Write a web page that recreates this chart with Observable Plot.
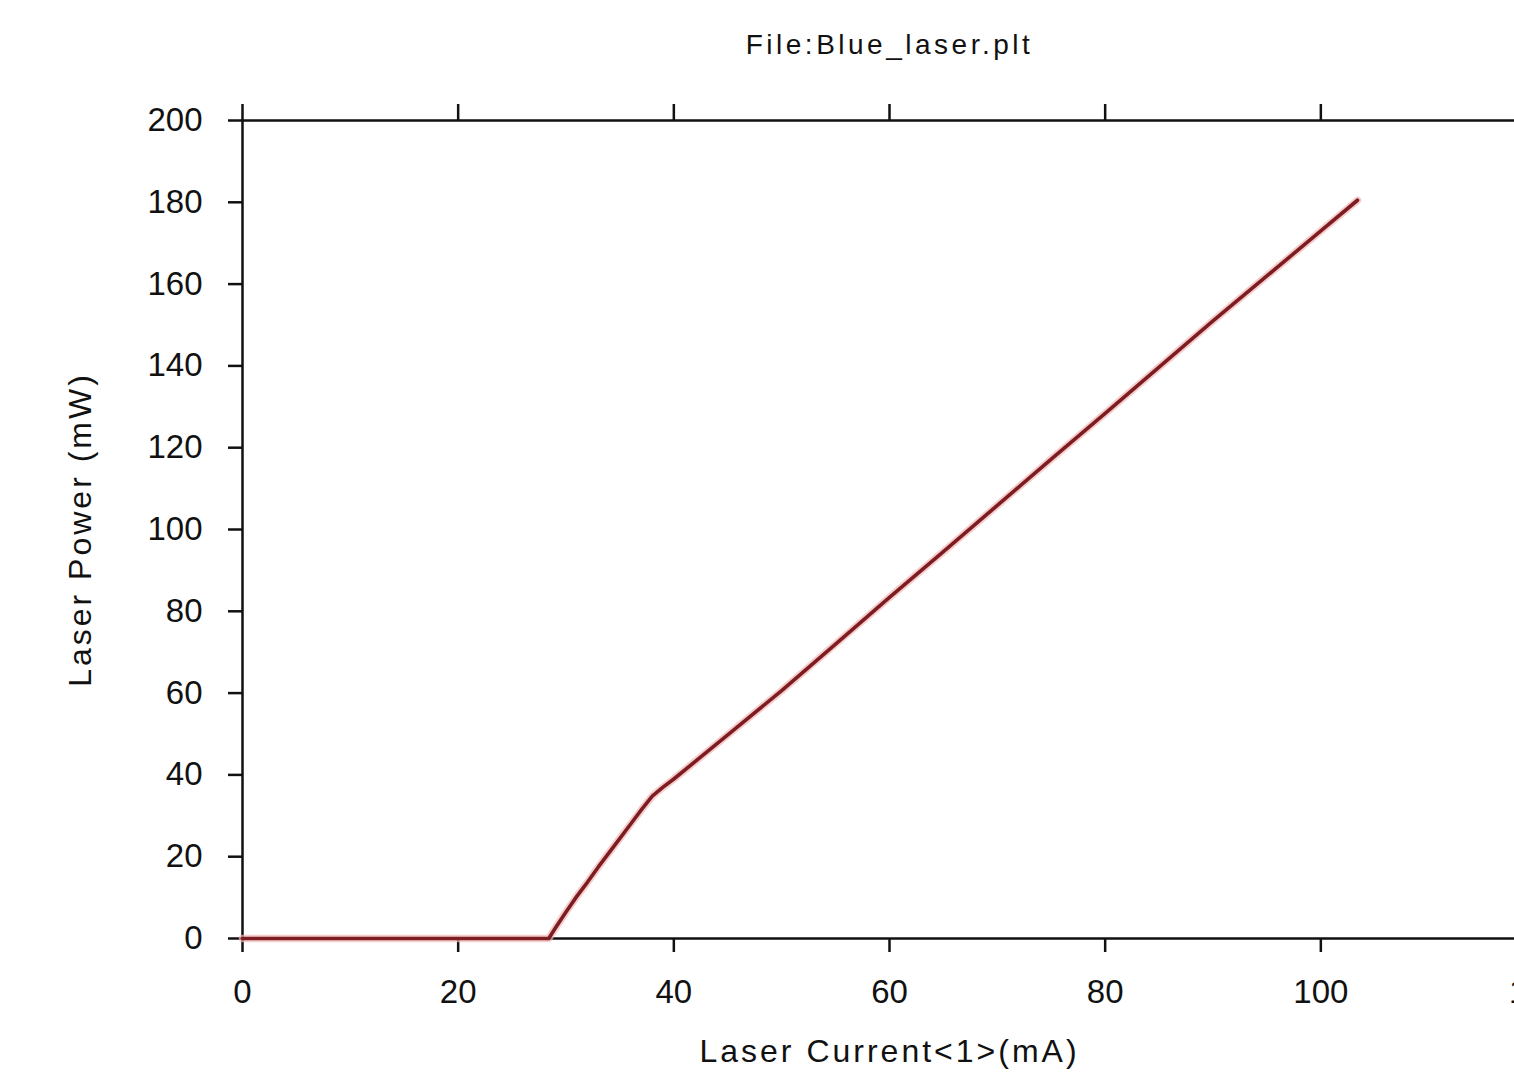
<!DOCTYPE html>
<html>
<head>
<meta charset="utf-8">
<script src="https://cdn.jsdelivr.net/npm/d3@7"></script>
<script src="https://cdn.jsdelivr.net/npm/@observablehq/plot@0.6"></script>
<style>
  html, body { margin: 0; padding: 0; background: #fff; overflow: hidden; }
  #chart { width: 1514px; height: 1075px; overflow: hidden; }
  #chart svg { display: block; max-width: none !important; width: 1576px !important; height: 1075px !important; }
</style>
</head>
<body>
<div id="chart"></div>
<script>
const title = "File:Blue_laser.plt";
const xLabel = "Laser Current<1>(mA)";
const yLabel = "Laser Power (mW)";

const current = [0, 10, 20, 28.4, 29, 30, 31, 32, 33, 34, 35, 36, 37, 38, 39, 40, 45, 50, 55, 60, 65, 70, 75, 80, 85, 90, 95, 100, 103.4];
const power   = [0, 0, 0, 0, 2.5, 6.5, 10.3, 13.8, 17.5, 21, 24.5, 28, 31.5, 34.8, 37, 39, 49.8, 60.6, 72, 83.4, 94.6, 105.9, 117.2, 128.4, 139.7, 151, 162, 173, 180.5];

const xTicks = [0, 20, 40, 60, 80, 100, 120];
const yTicks = [0, 20, 40, 60, 80, 100, 120, 140, 160, 180, 200];

const data = current.map((c, i) => ({current: c, power: power[i]}));

const font = "'Liberation Sans', Arial, Helvetica, sans-serif";

const plot = Plot.plot({
  width: 1576,
  height: 1075,
  marginLeft: 242,
  marginRight: 40,
  marginTop: 120,
  marginBottom: 137,
  style: {fontFamily: font, fontSize: "32px", color: "#111", background: "#fff"},
  x: {domain: [0, 120], axis: null},
  y: {domain: [0, 200], axis: null},
  marks: [
    Plot.frame({stroke: "#111", strokeWidth: 2.5}),
    Plot.axisX({anchor: "bottom", ticks: xTicks, tickSize: 14, tickPadding: 27, strokeWidth: 2.5, fontSize: 33, label: null, fill: "#111"}),
    Plot.axisX({anchor: "top", ticks: xTicks, tickSize: 17, tickFormat: () => "", strokeWidth: 2.5, label: null}),
    Plot.axisY({anchor: "left", ticks: yTicks, tickSize: 14, tickPadding: 26, strokeWidth: 2.5, fontSize: 33, label: null, fill: "#111"}),
    Plot.axisY({anchor: "right", ticks: yTicks, tickSize: 14, tickFormat: () => "", strokeWidth: 2.5, label: null}),
    Plot.line(data, {x: "current", y: "power", stroke: "#f2b8b8", strokeWidth: 7.5, strokeOpacity: 0.7}),
    Plot.line(data, {x: "current", y: "power", stroke: "#7d1d22", strokeWidth: 3.6}),
    Plot.text([title], {text: d => d, frameAnchor: "top", dy: -75, lineAnchor: "middle", textAnchor: "middle", fontSize: 28, fill: "#111"}),
    Plot.text([xLabel], {text: d => d, frameAnchor: "bottom", dy: 113, lineAnchor: "middle", textAnchor: "middle", fontSize: 32, fill: "#111"}),
    Plot.text([yLabel], {text: d => d, frameAnchor: "left", dx: -162, rotate: -90, lineAnchor: "middle", textAnchor: "middle", fontSize: 32, fill: "#111"})
  ]
});

d3.select(plot).selectAll("text").each(function() {
  const t = this.textContent;
  if (t === title) this.setAttribute("letter-spacing", "3.5");
  else if (t === xLabel) this.setAttribute("letter-spacing", "3");
  else if (t === yLabel) this.setAttribute("letter-spacing", "3");
});

document.getElementById("chart").appendChild(plot);
</script>
</body>
</html>
